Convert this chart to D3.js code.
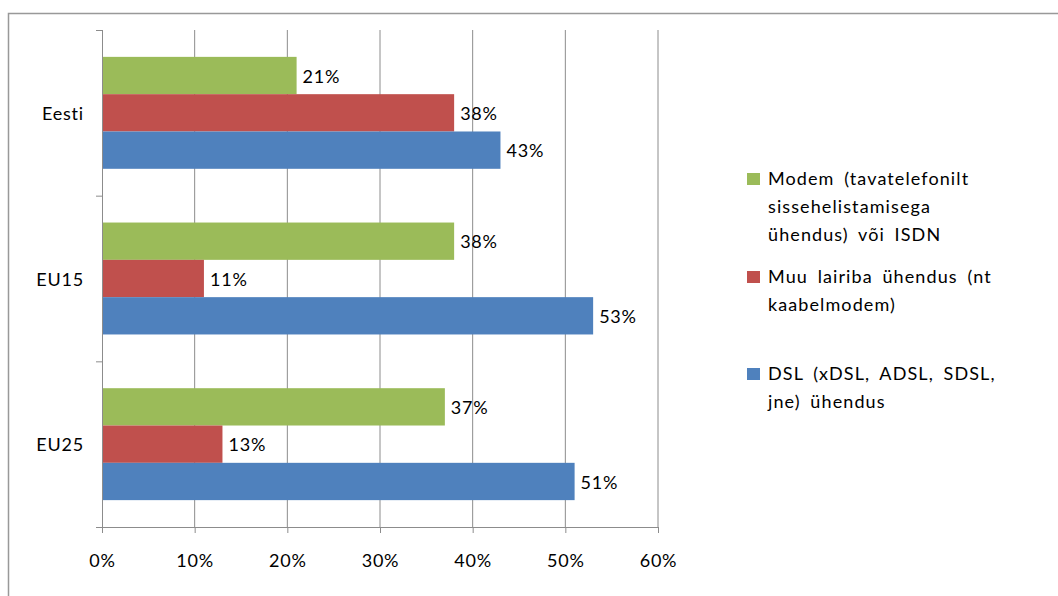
<!DOCTYPE html>
<html><head><meta charset="utf-8">
<script src="https://cdn.jsdelivr.net/npm/d3@7"></script>
<style>
html,body{margin:0;padding:0;background:#fff;}
svg{display:block;}
text{font-family:Lato,"Open Sans",sans-serif;fill:#000;letter-spacing:0.8px;font-variant-ligatures:none;}
.leg{letter-spacing:1.1px;word-spacing:4px;}
</style></head>
<body><svg id="c" width="1058" height="596"></svg>
<script>
const categories = ["Eesti", "EU15", "EU25"];
const seriesNames = [
  ["Modem (tavatelefonilt", "sissehelistamisega", "ühendus) või ISDN"],
  ["Muu lairiba ühendus (nt", "kaabelmodem)"],
  ["DSL (xDSL, ADSL, SDSL,", "jne) ühendus"]
];
const modemValues = [21, 38, 37];
const muuValues   = [38, 11, 13];
const dslValues   = [43, 53, 51];
const xTicks = [0, 10, 20, 30, 40, 50, 60];
const colors = ["#9BBB59", "#C0504D", "#4F81BD"];

(function () {
const FS = 18;
const series = [modemValues, muuValues, dslValues];
const svg = d3.select("#c");

// chart border
svg.append("rect").attr("x", 8.5).attr("y", 13.5).attr("width", 1070).attr("height", 600)
  .attr("fill", "none").attr("stroke", "#999").attr("stroke-width", 1.5);

const pl = 102, pr = 658, pt = 30, pb = 527;
const x = d3.scaleLinear().domain([0, 60]).range([pl, pr]);
const y = d3.scaleBand().domain(categories).range([pt, pb]);
const inner = d3.scaleBand().domain([0, 1, 2]).range([0, y.bandwidth()]).paddingInner(0).paddingOuter(0.72);

// gridlines
svg.append("g").selectAll("line").data(xTicks.slice(1)).join("line")
  .attr("x1", d => x(d)).attr("x2", d => x(d)).attr("y1", pt).attr("y2", pb)
  .attr("stroke", "#8c8c8c").attr("stroke-width", 1);

// bars
const g = svg.append("g");
categories.forEach((c, ci) => {
  series.forEach((vals, si) => {
    const yy = y(c) + inner(si);
    g.append("rect").attr("x", x(0)).attr("y", yy)
      .attr("width", x(vals[ci]) - x(0)).attr("height", inner.bandwidth())
      .attr("fill", colors[si]);
    g.append("text").attr("x", x(vals[ci]) + 6).attr("y", yy + inner.bandwidth() / 2)
      .attr("dy", "0.4em").attr("font-size", FS).text(vals[ci] + "%");
  });
});

// x axis
const xAxis = svg.append("g").attr("transform", `translate(0,${pb})`)
  .call(d3.axisBottom(x).tickValues(xTicks).tickFormat(d => d + "%").tickSize(6).tickPadding(21));
xAxis.select(".domain").attr("stroke", "#8c8c8c").attr("d", `M${pl - 6},0.5H${pr}`);
xAxis.selectAll(".tick line").attr("stroke", "#8c8c8c");
xAxis.selectAll("text").attr("font-size", FS).attr("font-family", "Lato,sans-serif").attr("fill", "#000");

// y axis
const yAxis = svg.append("g").attr("transform", `translate(${pl},0)`);
yAxis.append("line").attr("x1", 0.5).attr("x2", 0.5).attr("y1", pt).attr("y2", pb).attr("stroke", "#8c8c8c");
const yTicks = [pt, ...categories.map(c => y(c) + y.bandwidth())];
yAxis.selectAll("line.t").data(yTicks).join("line").attr("class", "t")
  .attr("x1", -6).attr("x2", 0).attr("y1", d => d + 0.5).attr("y2", d => d + 0.5).attr("stroke", "#8c8c8c");
yAxis.selectAll("text").data(categories).join("text")
  .attr("x", -18).attr("y", d => y(d) + y.bandwidth() / 2).attr("dy", "0.4em")
  .attr("text-anchor", "end").attr("font-size", FS).text(d => d);

// legend
const legendY = [185, 283, 380];
const lg = svg.append("g");
seriesNames.forEach((lines, i) => {
  lg.append("rect").attr("x", 747).attr("y", legendY[i] - 12).attr("width", 13).attr("height", 12).attr("fill", colors[i]);
  lines.forEach((t, j) => {
    lg.append("text").attr("class", "leg").attr("x", 768).attr("y", legendY[i] + j * 28).attr("font-size", FS).text(t);
  });
});
})();
</script></body></html>
